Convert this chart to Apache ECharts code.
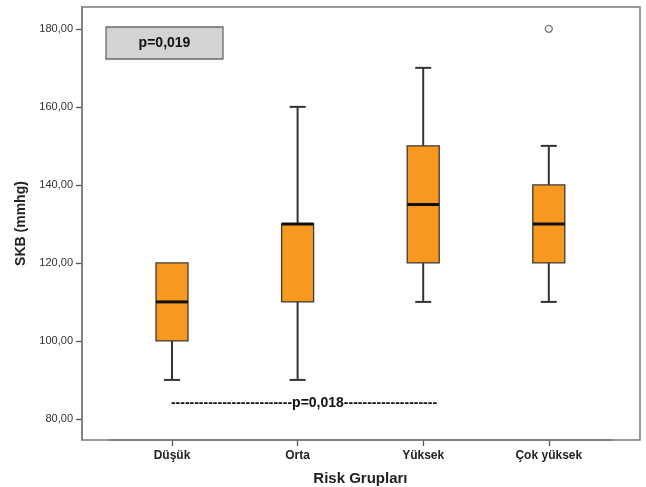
<!DOCTYPE html>
<html>
<head>
<meta charset="utf-8">
<script src="https://cdn.jsdelivr.net/npm/echarts@6/dist/echarts.min.js"></script>
<style>html,body{margin:0;padding:0;background:#fff;}#c{width:646px;height:487px;}</style>
</head>
<body>
<div id="c"></div>
<script>
const categories = ['Düşük', 'Orta', 'Yüksek', 'Çok yüksek'];
const whiskerLow = [90, 90, 110, 110];
const q1 = [100, 110, 120, 120];
const median = [110, 130, 135, 130];
const q3 = [120, 130, 150, 140];
const whiskerHigh = [120, 160, 170, 150];
const outliers = [[3, 180]];
const yTicks = [80, 100, 120, 140, 160, 180];
const pOverall = 'p=0,019';
const pPair = 'p=0,018';

const FONT = 'Liberation Sans, Arial, sans-serif';
const boxData = categories.map((c, i) => [i, whiskerLow[i], q1[i], median[i], q3[i], whiskerHigh[i]]);

const chart = echarts.init(document.getElementById('c'));
chart.setOption({
  animation: false,
  grid: { left: 109.2, right: 34.4, top: 7, bottom: 47, containLabel: false, outerBoundsMode: 'none' },
  xAxis: {
    type: 'category',
    data: categories,
    boundaryGap: true,
    axisLine: { show: true, lineStyle: { color: '#7a7a7a', width: 1.5 } },
    axisTick: { show: true, alignWithLabel: true, length: 6, lineStyle: { color: '#555', width: 1.3 } },
    axisLabel: { fontFamily: FONT, fontWeight: 'bold', fontSize: 12, color: '#222', margin: 10 },
    name: 'Risk Grupları',
    nameLocation: 'middle',
    nameGap: 31,
    nameTextStyle: { fontFamily: FONT, fontWeight: 'bold', fontSize: 15, color: '#222' }
  },
  yAxis: {
    type: 'value',
    min: 74.6,
    max: 185.6,
    offset: 27.2,
    splitLine: { show: false },
    axisLine: { show: true, lineStyle: { color: '#7a7a7a', width: 1.5 } },
    axisTick: { show: true, length: 6, customValues: yTicks, lineStyle: { color: '#555', width: 1.3 } },
    axisLabel: {
      customValues: yTicks,
      fontFamily: FONT, fontSize: 11, color: '#333', margin: 9,
      formatter: v => v.toFixed(2).replace('.', ',')
    },
    name: 'SKB (mmhg)',
    nameLocation: 'middle',
    nameGap: 45,
    nameTextStyle: { fontFamily: FONT, fontWeight: 'bold', fontSize: 14, color: '#222' }
  },
  graphic: [
    { type: 'rect', shape: { x: 82, y: 7, width: 558, height: 433 },
      style: { fill: 'none', stroke: '#7a7a7a', lineWidth: 1.5 }, z: 1 },
    { type: 'rect', shape: { x: 106, y: 27, width: 117, height: 32 },
      style: { fill: '#d3d3d3', stroke: '#6a6a6a', lineWidth: 1.3 }, z: 5 },
    { type: 'text', x: 164.5, y: 43, z: 6,
      style: { text: pOverall, fontFamily: FONT, fontWeight: 'bold', fontSize: 14, fill: '#111',
               align: 'center', verticalAlign: 'middle' } },
    { type: 'text', x: 304, y: 403, z: 6,
      style: { text: '-'.repeat(26) + pPair + '-'.repeat(20), fontFamily: FONT, fontWeight: 'bold', fontSize: 14, fill: '#111',
               align: 'center', verticalAlign: 'middle' } }
  ],
  series: [
    {
      type: 'custom',
      data: boxData,
      z: 3,
      renderItem: function (params, api) {
        const i = api.value(0);
        const x = api.coord([i, 0])[0];
        const yl = api.coord([i, api.value(1)])[1];
        const y1 = api.coord([i, api.value(2)])[1];
        const ym = api.coord([i, api.value(3)])[1];
        const y3 = api.coord([i, api.value(4)])[1];
        const yh = api.coord([i, api.value(5)])[1];
        const bw = 32, cw = 16;
        const wl = { stroke: '#333', lineWidth: 2 };
        const children = [];
        if (yl > y1 + 0.5) {
          children.push({ type: 'line', shape: { x1: x, y1: y1, x2: x, y2: yl }, style: wl });
          children.push({ type: 'line', shape: { x1: x - cw / 2, y1: yl, x2: x + cw / 2, y2: yl }, style: wl });
        }
        if (yh < y3 - 0.5) {
          children.push({ type: 'line', shape: { x1: x, y1: y3, x2: x, y2: yh }, style: wl });
          children.push({ type: 'line', shape: { x1: x - cw / 2, y1: yh, x2: x + cw / 2, y2: yh }, style: wl });
        }
        children.push({ type: 'rect', shape: { x: x - bw / 2, y: y3, width: bw, height: y1 - y3 },
          style: { fill: '#f7981f', stroke: '#3a3a3a', lineWidth: 1.3 } });
        children.push({ type: 'line', shape: { x1: x - bw / 2, y1: ym, x2: x + bw / 2, y2: ym },
          style: { stroke: '#111', lineWidth: 3 } });
        return { type: 'group', children: children };
      }
    },
    {
      type: 'scatter',
      data: outliers,
      symbol: 'circle',
      symbolSize: 7,
      z: 4,
      itemStyle: { color: '#fff', borderColor: '#555', borderWidth: 1.3 }
    }
  ]
});
</script>
</body>
</html>
